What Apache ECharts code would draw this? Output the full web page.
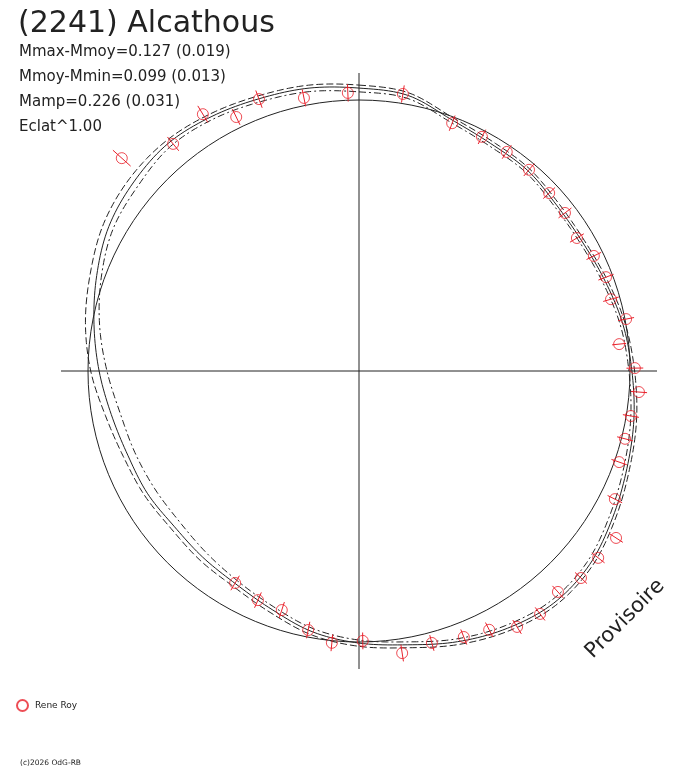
<!DOCTYPE html>
<html>
<head>
<meta charset="utf-8">
<script src="https://cdn.jsdelivr.net/npm/echarts@6/dist/echarts.min.js"></script>
<style>
  html, body { margin: 0; padding: 0; background: #fff; }
  #chart { width: 688px; height: 768px; }
</style>
</head>
<body>
<div id="chart"></div>
<script>
// phase in degrees (clockwise from top), flux relative to mean (1 = mean circle)
const pointPhase = [311.9, 320.7, 328.7, 334.2, 339.8, 348.6, 357.7, 9.0, 20.6, 27.7,
  34.0, 40.2, 46.9, 52.5, 58.6, 63.9, 69.2, 74.1, 79.0, 84.1,
  89.4, 94.3, 99.4, 104.3, 109.3, 116.6, 123.0, 128.0, 133.0, 138.0,
  143.3, 148.3, 153.3, 158.5, 165.0, 171.3, 179.2, 185.7, 191.1, 197.9,
  203.8, 210.3];
const pointFlux = [1.176, 1.083, 1.109, 1.041, 1.069, 1.028, 1.027, 1.035, 0.977, 0.976,
  0.975, 0.972, 0.961, 0.958, 0.942, 0.965, 0.975, 0.967, 1.004, 0.965,
  1.018, 1.036, 1.017, 1.013, 1.017, 1.056, 1.131, 1.120, 1.120, 1.097,
  1.118, 1.110, 1.069, 1.055, 1.039, 1.053, 0.996, 1.008, 0.974, 0.927,
  0.924, 0.906];
const pointErr = [0.044, 0.033, 0.036, 0.032, 0.034, 0.032, 0.032, 0.032, 0.030, 0.030,
  0.030, 0.030, 0.030, 0.030, 0.030, 0.030, 0.030, 0.030, 0.030, 0.026,
  0.031, 0.030, 0.030, 0.030, 0.030, 0.030, 0.030, 0.030, 0.030, 0.030,
  0.030, 0.030, 0.030, 0.030, 0.030, 0.031, 0.031, 0.031, 0.031, 0.031,
  0.031, 0.031];

const curvePhase = [0, 10, 20, 30, 40, 50, 60, 70, 80, 90, 100, 110, 120, 130, 140, 150, 160, 170,
  180, 190, 200, 210, 220, 230, 240, 250, 260, 270, 280, 290, 300, 310, 320, 330, 340, 350, 360];
const fitSolid = [1.044, 1.033, 0.989, 0.970, 0.967, 0.952, 0.952, 0.967, 0.989, 1.007,
  1.030, 1.052, 1.081, 1.111, 1.118, 1.096, 1.063, 1.026, 1.004, 0.978,
  0.937, 0.908, 0.897, 0.891, 0.902, 0.908, 0.928, 0.959, 0.993, 1.030,
  1.066, 1.085, 1.096, 1.085, 1.070, 1.060, 1.044];
const fitDashed = [1.055, 1.043, 0.998, 0.980, 0.976, 0.962, 0.961, 0.976, 0.998, 1.017,
  1.040, 1.062, 1.092, 1.122, 1.129, 1.107, 1.074, 1.037, 1.016, 0.990,
  0.950, 0.921, 0.912, 0.905, 0.915, 0.925, 0.950, 0.990, 1.025, 1.055,
  1.088, 1.105, 1.108, 1.096, 1.081, 1.071, 1.055];
const fitDashDot = [1.030, 1.022, 0.979, 0.960, 0.957, 0.943, 0.943, 0.957, 0.979, 0.996,
  1.018, 1.040, 1.068, 1.098, 1.105, 1.084, 1.052, 1.015, 0.993, 0.966,
  0.925, 0.895, 0.876, 0.865, 0.870, 0.880, 0.895, 0.930, 0.972, 1.012,
  1.048, 1.064, 1.082, 1.074, 1.058, 1.047, 1.030];

const statLines = ['Mmax-Mmoy=0.127 (0.019)', 'Mmoy-Mmin=0.099 (0.013)', 'Mamp=0.226 (0.031)', 'Eclat^1.00'];

const RED = '#e8202a';
const INK = '#222';
const FONT = '"DejaVu Sans", sans-serif';
const CENTER = [359, 371];
const MEAN_R = 271;      // pixel radius of flux = 1
const DATA_MAX = 1.25;   // data polar reaches past the brightest point

const chart = echarts.init(document.getElementById('chart'));

// periodic catmull-rom through the read values, mapped by the polar axes
const catmull = function (p0, p1, p2, p3, t) {
  const t2 = t * t, t3 = t2 * t;
  return 0.5 * ((2 * p1) + (-p0 + p2) * t + (2 * p0 - 5 * p1 + 4 * p2 - p3) * t2 +
    (-p0 + 3 * p1 - 3 * p2 + p3) * t3);
};

const curve = function (values, dash) {
  return {
    type: 'custom',
    coordinateSystem: 'polar',
    polarIndex: 2,
    clip: false,
    silent: true,
    data: [[values[0], curvePhase[0]]],
    renderItem: function (params, api) {
      const n = curvePhase.length - 1;
      const pts = [];
      for (let i = 0; i < n; i++) {
        const r0 = values[(i - 1 + n) % n], r1 = values[i], r2 = values[i + 1], r3 = values[(i + 2) % n];
        for (let s = 0; s < 10; s++) {
          const t = s / 10;
          const a = curvePhase[i] + (curvePhase[i + 1] - curvePhase[i]) * t;
          pts.push(api.coord([catmull(r0, r1, r2, r3, t), a]));
        }
      }
      pts.push(api.coord([values[n], curvePhase[n]]));
      return {
        type: 'polyline',
        shape: { points: pts },
        style: { stroke: INK, fill: null, lineWidth: 1, lineDash: dash },
      };
    },
  };
};

const hiddenAngle = function (idx) {
  return {
    polarIndex: idx, min: 0, max: 360, startAngle: 90, clockwise: true,
    axisLine: { show: false }, axisTick: { show: false }, axisLabel: { show: false },
    splitLine: { show: false },
  };
};

const graphics = [{
  type: 'text', x: 18, y: 24,
  style: { text: '(2241) Alcathous', font: '30px ' + FONT, fill: INK, align: 'left', verticalAlign: 'middle' },
}];
statLines.forEach(function (t, i) {
  graphics.push({
    type: 'text', x: 19, y: 52 + i * 25,
    style: { text: t, font: '15px ' + FONT, fill: INK, align: 'left', verticalAlign: 'middle' },
  });
});
graphics.push({
  type: 'text', x: 625, y: 619, rotation: Math.PI / 4,
  style: { text: 'Provisoire', font: '21px ' + FONT, fill: INK, align: 'center', verticalAlign: 'middle' },
});
graphics.push({
  type: 'text', x: 20, y: 763,
  style: { text: '(c)2026 OdG-RB', font: '7.5px ' + FONT, fill: INK, align: 'left', verticalAlign: 'middle' },
});

const crossAxis = hiddenAngle(0);
crossAxis.interval = 90;
crossAxis.splitLine = { show: true, lineStyle: { color: INK, width: 1 } };
const meanAxis = hiddenAngle(1);
meanAxis.axisLine = { show: true, lineStyle: { color: INK, width: 1 } };

const option = {
  animation: false,
  polar: [
    { center: CENTER, radius: 298 },
    { center: CENTER, radius: MEAN_R },
    { center: CENTER, radius: MEAN_R * DATA_MAX },
  ],
  angleAxis: [crossAxis, meanAxis, hiddenAngle(2)],
  radiusAxis: [
    { polarIndex: 0, min: 0, max: 1, show: false },
    { polarIndex: 1, min: 0, max: 1, show: false },
    { polarIndex: 2, min: 0, max: DATA_MAX, show: false },
  ],
  legend: {
    data: ['Rene Roy'],
    left: 16, top: 699, padding: 0,
    itemWidth: 11, itemHeight: 11, itemGap: 5,
    textStyle: { fontSize: 9, fontFamily: FONT, color: INK, padding: [0, 0, 0, 2] },
  },
  graphic: graphics,
  series: [
    curve(fitSolid, null),
    curve(fitDashed, [7, 3]),
    curve(fitDashDot, [7, 3, 2, 3]),
    {
      type: 'custom',
      coordinateSystem: 'polar',
      polarIndex: 2,
      clip: false,
      silent: true,
      data: pointPhase.map(function (a, i) { return [pointFlux[i], a, pointErr[i]]; }),
      renderItem: function (params, api) {
        const r = api.value(0), a = api.value(1), e = api.value(2);
        const p1 = api.coord([r - e, a]);
        const p2 = api.coord([r + e, a]);
        return {
          type: 'line',
          shape: { x1: p1[0], y1: p1[1], x2: p2[0], y2: p2[1] },
          style: { stroke: RED, lineWidth: 1 },
        };
      },
    },
    {
      name: 'Rene Roy',
      type: 'scatter',
      coordinateSystem: 'polar',
      polarIndex: 2,
      clip: false,
      symbol: 'circle',
      symbolSize: 11,
      itemStyle: { color: 'rgba(0,0,0,0)', borderColor: RED, borderWidth: 1 },
      data: pointPhase.map(function (a, i) { return [pointFlux[i], a]; }),
    },
  ],
};
chart.setOption(option);
</script>
</body>
</html>
